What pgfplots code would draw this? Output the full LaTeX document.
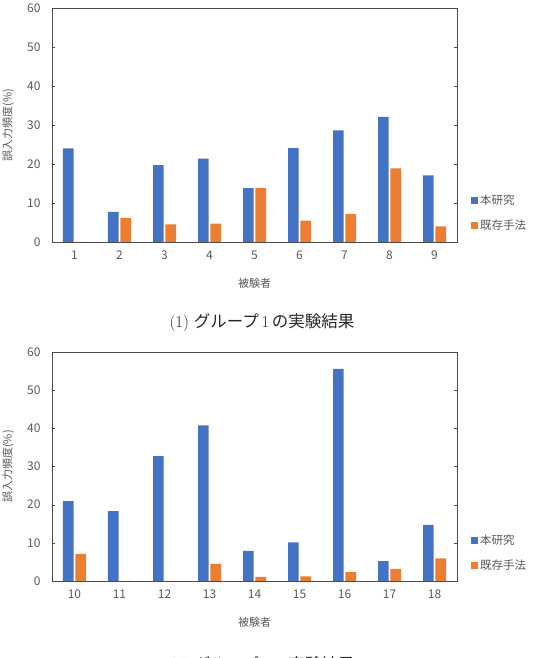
\documentclass[border=0pt]{standalone}
\usepackage{fontspec}
\usepackage{pgfplots}
\pgfplotsset{compat=1.18}
\newfontfamily\jp{Noto Sans CJK JP}
\definecolor{cblue}{HTML}{4472C4}
\definecolor{corange}{HTML}{ED7D31}
\definecolor{tgray}{HTML}{595959}
\pgfplotsset{mystyle/.style={
  scale only axis, width=405pt, ymin=0, ymax=60, ytick={0,10,...,60},
  ybar=1.8pt, bar width=10.6pt, axis on top,
  axis line style={draw=black!70, line width=0.6pt},
  tick align=inside, major tick length=3pt,
  xtick style={draw=none}, ytick style={draw=black!70},
  tick label style={font=\jp\fontsize{12}{14}\selectfont, text=tgray},
  /pgf/number format/assume math mode=true,
  yticklabel style={xshift=-8pt},
  xticklabel style={yshift=-5pt},
  ylabel={誤入力頻度(\%)}, xlabel={被験者},
  ylabel style={at={(axis description cs:-0.1086,0.5)}, anchor=center,
    font=\jp\fontsize{11}{13}\selectfont, text=tgray},
  xlabel style={at={(axis description cs:0.5,0)}, yshift=-41pt, anchor=center,
    font=\jp\fontsize{11}{13}\selectfont, text=tgray},
  legend style={at={(1,0.124)}, anchor=west, xshift=14pt, draw=none, fill=none,
    font=\jp\fontsize{11.5}{13}\selectfont, text=tgray, row sep=10pt, inner sep=0pt},
  legend cell align=left,
  legend image code/.code={\path[#1, draw=none] (0pt,-3.5pt) rectangle (7pt,3.5pt);},
}}
\begin{document}
\begin{tikzpicture}
\useasboundingbox (0pt,0pt) rectangle (535pt,658pt);
\begin{axis}[mystyle, at={(52pt,416pt)}, anchor=south west, height=234pt,
  xmin=0.5, xmax=9.5, xtick={1,...,9}]
\addplot[fill=cblue, draw=none] coordinates {(1,24.0) (2,7.7) (3,19.7) (4,21.4) (5,13.8) (6,24.1) (7,28.6) (8,32.1) (9,17.1)};
\addplot[fill=corange, draw=none] coordinates {(1,0) (2,6.2) (3,4.5) (4,4.7) (5,13.8) (6,5.5) (7,7.2) (8,18.9) (9,4.0)};
\legend{本研究, 既存手法}
\end{axis}
\node[text=black!85] at (262pt,335pt) {\fontsize{16.5}{20}\selectfont (1) {\jp グループ}\,1\,{\jp の実験結果}};
\begin{axis}[mystyle, at={(52pt,77pt)}, anchor=south west, height=229pt,
  xmin=9.5, xmax=18.5, xtick={10,...,18}]
\addplot[fill=cblue, draw=none] coordinates {(10,20.9) (11,18.3) (12,32.7) (13,40.8) (14,7.9) (15,10.1) (16,55.6) (17,5.2) (18,14.7)};
\addplot[fill=corange, draw=none] coordinates {(10,7.1) (11,0) (12,0) (13,4.5) (14,1.1) (15,1.2) (16,2.3) (17,3.2) (18,5.9)};
\legend{本研究, 既存手法}
\end{axis}
\node[text=black!85] at (262pt,-8pt) {\fontsize{16.5}{20}\selectfont (2) {\jp グループ}\,2\,{\jp の実験結果}};
\end{tikzpicture}
\end{document}
